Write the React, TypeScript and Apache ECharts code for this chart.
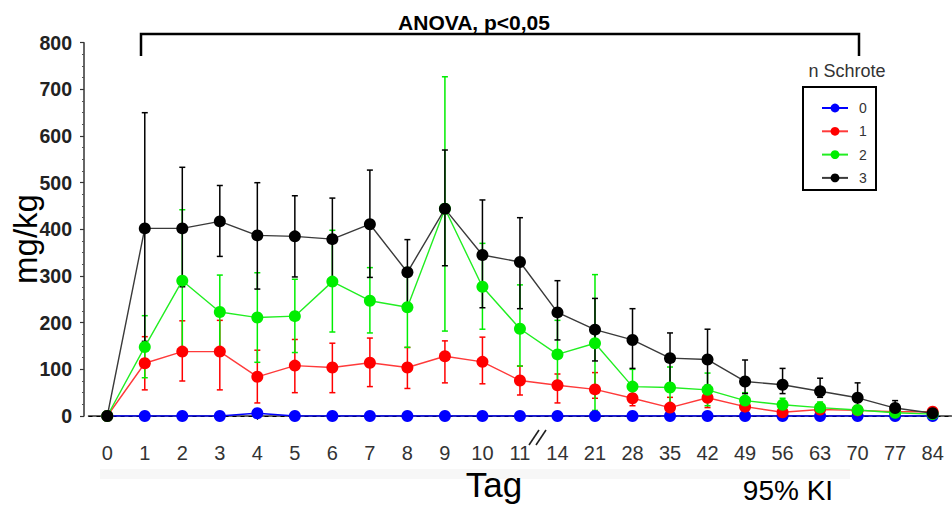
import React, { useEffect, useRef } from 'react';
import * as echarts from 'echarts';

const days = ['0', '1', '2', '3', '4', '5', '6', '7', '8', '9', '10', '11', '14', '21', '28', '35', '42', '49', '56', '63', '70', '77', '84'];
const yTicks = [0, 800, 100];

const mean0 = [0, 0, 0, 0, 6, 0, 0, 0, 0, 0, 0, 0, 0, 0, 0, 0, 0, 0, 0, 0, 0, 0, 0];
const low0 = [0, 0, 0, 0, 2, 0, 0, 0, 0, 0, 0, 0, 0, 0, 0, 0, 0, 0, 0, 0, 0, 0, 0];
const high0 = [0, 0, 0, 0, 10, 0, 0, 0, 0, 0, 0, 0, 0, 0, 0, 0, 0, 0, 0, 0, 0, 0, 0];

const mean1 = [0, 113, 138, 138, 84, 108, 104, 114, 104, 128, 116, 76, 66, 57, 38, 18, 39, 20, 8, 14, 12, 9, 9];
const high1 = [0, 170, 204, 205, 141, 164, 156, 167, 147, 161, 169, 107, 90, 93, 58, 40, 60, 30, 14, 20, 16, 12, 11];
const low1 = [0, 56, 75, 56, 28, 50, 50, 63, 59, 71, 69, 45, 28, 38, 22, 5, 18, 10, 3, 8, 8, 6, 7];

const mean2 = [0, 148, 290, 223, 211, 214, 288, 247, 233, 444, 277, 187, 132, 156, 63, 61, 56, 33, 24, 18, 13, 7, 4];
const high2 = [0, 215, 442, 302, 307, 293, 398, 318, 318, 727, 370, 281, 205, 303, 100, 105, 92, 50, 38, 30, 20, 10, 6];
const low2 = [0, 82, 140, 145, 115, 136, 180, 178, 147, 182, 186, 107, 68, 12, 30, 25, 22, 18, 12, 10, 7, 2, 2];

const mean3 = [0, 402, 402, 417, 387, 385, 379, 411, 308, 444, 345, 330, 222, 185, 163, 124, 121, 74, 67, 53, 39, 17, 6];
const high3 = [0, 650, 533, 494, 500, 472, 467, 527, 378, 570, 463, 425, 290, 252, 230, 178, 186, 120, 102, 81, 71, 33, 8];
const low3 = [0, 160, 277, 342, 272, 298, 293, 297, 240, 322, 232, 230, 163, 118, 102, 70, 66, 48, 48, 40, 9, 6, 4];

const groupNames = ['0', '1', '2', '3'];

export default function App() {
  const ref = useRef<HTMLDivElement>(null);
  useEffect(() => {
    const chart = echarts.init(ref.current!, null, { renderer: 'svg' });
    const font = '"Liberation Sans", Arial, sans-serif';
    const groups = [
      { name: groupNames[0], mean: mean0, low: low0, high: high0, color: '#0000ff', line: '#0000ff' },
      { name: groupNames[1], mean: mean1, low: low1, high: high1, color: '#ff0000', line: '#ff3a3a' },
      { name: groupNames[2], mean: mean2, low: low2, high: high2, color: '#00ee00', line: '#22ee22' },
      { name: groupNames[3], mean: mean3, low: low3, high: high3, color: '#000000', line: '#3a3a3a' },
    ];
    const errSeries: any[] = groups.map((g, gi) => ({
      type: 'custom',
      name: g.name + ' KI',
      silent: true,
      z: 2,
      encode: { x: 0, y: [1, 2] },
      data: days.map((_, k) => [k, g.low[k], g.high[k]]),
      renderItem: (params: any, api: any) => {
        const x = api.value(0);
        const lo = api.coord([x, api.value(1)]);
        const hi = api.coord([x, api.value(2)]);
        const cw = 3;
        const style = { stroke: g.color, lineWidth: 1.5 };
        return {
          type: 'group',
          children: [
            { type: 'line', shape: { x1: lo[0], y1: lo[1], x2: hi[0], y2: hi[1] }, style },
            { type: 'line', shape: { x1: hi[0] - cw, y1: hi[1], x2: hi[0] + cw, y2: hi[1] }, style },
            { type: 'line', shape: { x1: lo[0] - cw, y1: lo[1], x2: lo[0] + cw, y2: lo[1] }, style },
          ],
        };
      },
      ...(gi === 0
        ? {
            markLine: {
              silent: true,
              symbol: 'none',
              label: { show: false },
              lineStyle: { type: [4, 4], color: '#000', width: 1.2 },
              data: [{ yAxis: 0 }],
            },
          }
        : {}),
    }));
    const lineSeries: any[] = groups.map((g, i) => ({
      type: 'line',
      name: g.name,
      data: g.mean,
      symbol: 'circle',
      symbolSize: 12,
      itemStyle: { color: g.color },
      lineStyle: { color: g.line, width: 1.4 },
      z: 10 + i,
      emphasis: { disabled: true },
    }));
    chart.setOption({
      animation: false,
      grid: { left: 88.5, right: 0.6, top: 42.7, bottom: 89, containLabel: false },
      xAxis: {
        type: 'category',
        data: days,
        boundaryGap: true,
        offset: 22,
        axisLine: { show: true, lineStyle: { color: '#333', width: 1.5 } },
        axisTick: { show: true, alignWithLabel: true, length: 4, lineStyle: { color: '#333', width: 1.2 } },
        axisLabel: { fontSize: 20, color: '#333', margin: 6, interval: 0, fontFamily: font, lineHeight: 18 },
        splitLine: { show: false },
      },
      yAxis: {
        type: 'value',
        min: yTicks[0],
        max: yTicks[1],
        interval: yTicks[2],
        offset: 4.5,
        axisLine: { show: true, lineStyle: { color: '#333', width: 1.5 } },
        axisTick: { show: true, length: 4, lineStyle: { color: '#333', width: 1.2 } },
        minorTick: { show: true, splitNumber: 4, length: 2, lineStyle: { color: '#555', width: 1 } },
        splitLine: { show: false },
        axisLabel: { fontSize: 19.5, fontWeight: 'bold', color: '#222', margin: 12, fontFamily: font },
      },
      legend: {
        data: groupNames,
        orient: 'vertical',
        left: 816,
        top: 96,
        itemWidth: 26,
        itemHeight: 11,
        itemGap: 9.3,
        selectedMode: false,
        textStyle: { fontSize: 14, color: '#333', fontFamily: font, lineHeight: 14, padding: [0, 0, 0, 6] },
      },
      graphic: [
        { type: 'rect', z: 0, shape: { x: 100, y: 469, width: 750, height: 10 }, style: { fill: '#f7f7f7' } },
        {
          type: 'polyline',
          shape: { points: [[141, 56], [141, 34], [859, 34], [859, 56]] },
          style: { stroke: '#000', lineWidth: 2.5, fill: 'none' },
        },
        {
          type: 'text',
          x: 474,
          y: 22,
          style: { text: 'ANOVA, p<0,05', font: `bold 21px ${font}`, fill: '#000', align: 'center', verticalAlign: 'middle' },
        },
        {
          type: 'text',
          x: 847,
          y: 71,
          style: { text: 'n Schrote', font: `18px ${font}`, fill: '#333', align: 'center', verticalAlign: 'middle' },
        },
        {
          type: 'rect',
          shape: { x: 803, y: 87, width: 73, height: 103 },
          style: { stroke: '#000', lineWidth: 2, fill: 'none' },
        },
        {
          type: 'text',
          x: 25,
          y: 239,
          rotation: Math.PI / 2,
          style: { text: 'mg/kg', font: `33px ${font}`, fill: '#000', align: 'center', verticalAlign: 'middle' },
        },
        {
          type: 'text',
          x: 494,
          y: 484,
          style: { text: 'Tag', font: `35px ${font}`, lineHeight: 22, fill: '#000', align: 'center', verticalAlign: 'middle' },
        },
        {
          type: 'text',
          x: 788,
          y: 490,
          style: { text: '95% KI', font: `28px ${font}`, fill: '#000', align: 'center', verticalAlign: 'middle' },
        },
        { type: 'line', shape: { x1: 529, y1: 445, x2: 539, y2: 430 }, style: { stroke: '#222', lineWidth: 1.6 } },
        { type: 'line', shape: { x1: 536, y1: 445, x2: 546, y2: 430 }, style: { stroke: '#222', lineWidth: 1.6 } },
      ],
      series: [...errSeries, ...lineSeries],
    });
    return () => chart.dispose();
  }, []);
  return <div ref={ref} style={{ position: 'fixed', left: 0, top: 0, width: 952, height: 505, background: '#fff' }} />;
}
